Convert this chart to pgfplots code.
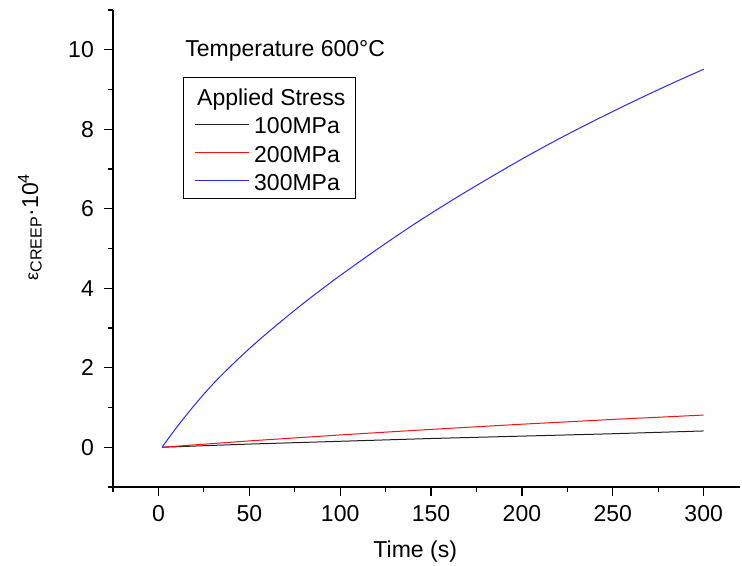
\documentclass[border=0pt]{standalone}
\usepackage{fontspec}
\setmainfont{Liberation Sans}
\usepackage{pgfplots}
\pgfplotsset{compat=1.18}
\definecolor{CreepBlack}{HTML}{202020}
\definecolor{CreepRed}{HTML}{FF1010}
\definecolor{CreepBlue}{HTML}{2828FF}
\newcommand{\bigfont}{\fontsize{23bp}{27bp}\selectfont}

\begin{document}
\begin{tikzpicture}
\useasboundingbox (-113bp,-79bp) rectangle (629bp,487bp);
\begin{axis}[
  scale only axis,
  width=627bp, height=477bp,
  xmin=-25, xmax=320, ymin=-1, ymax=11,
  axis x line=bottom, axis y line=left,
  axis line style={-, line width=1.2bp},
  xtick={0,50,...,300}, ytick={0,2,...,10},
  minor xtick={-25,25,75,...,275}, minor ytick={-1,1,...,11},
  tick align=outside,
  major tick length=9bp, minor tick length=5bp,
  every tick/.style={black, line width=1.2bp},
  /pgf/number format/assume math mode=true,
  tick label style={font=\bigfont, inner sep=0pt},
  xticklabel style={anchor=north, yshift=-9bp},
  yticklabel style={anchor=east, xshift=-10bp},
  xlabel={Time (s)},
  ylabel={{\fontsize{18bp}{20bp}\selectfont ε}\textsubscript{CREEP}·10\textsuperscript{4}},
  label style={font=\bigfont, inner sep=0pt},
  xlabel style={at={(axis description cs:0.482,-0.1488)}, anchor=base},
  ylabel style={at={(axis description cs:-0.1196,0.545)}, anchor=base},
  legend cell align=left,
  legend image code/.code={
    \path[draw=none, fill=none] (0bp,1bp) -- (62bp,1bp);
    \draw[#1, line width=1.2bp] (7bp,1bp) -- (61bp,1bp);},
  legend style={draw=black, line width=1bp, font=\bigfont,
    at={(0.1116,0.859)}, anchor=north west,
    inner sep=4.7bp, row sep=5.3bp, column sep=4bp,
    nodes={inner xsep=0bp, inner ysep=3bp, text height=17bp, text depth=0bp}},
]
\addlegendimage{empty legend}
\addlegendentry[text height=20bp]{\hspace*{-57bp}Applied Stress\hspace*{5bp}}

\addplot[CreepBlack, line width=1bp] coordinates {
  (2,0) (50,0.08) (100,0.15) (150,0.22) (200,0.28) (250,0.34) (300,0.41)};
\addlegendentry{100MPa}

\addplot[CreepRed, line width=1bp] coordinates {
  (2,0) (50,0.16) (100,0.31) (150,0.45) (200,0.58) (250,0.70) (300,0.81)};
\addlegendentry{200MPa}

\addplot[CreepBlue, line width=1bp, smooth] coordinates {
  (2,0) (10,0.50) (20,1.07) (30,1.59) (40,2.05) (50,2.48) (60,2.88)
  (70,3.26) (80,3.63) (90,3.98) (100,4.32) (120,4.97) (140,5.59)
  (160,6.17) (180,6.72) (200,7.25) (220,7.75) (240,8.22) (260,8.67)
  (280,9.10) (300,9.51)};
\addlegendentry{300MPa}

\node[anchor=base west, inner sep=0pt, font=\bigfont] at (axis cs:14.7,9.83)
  {Temperature 600°C};
\end{axis}
\end{tikzpicture}
\end{document}
